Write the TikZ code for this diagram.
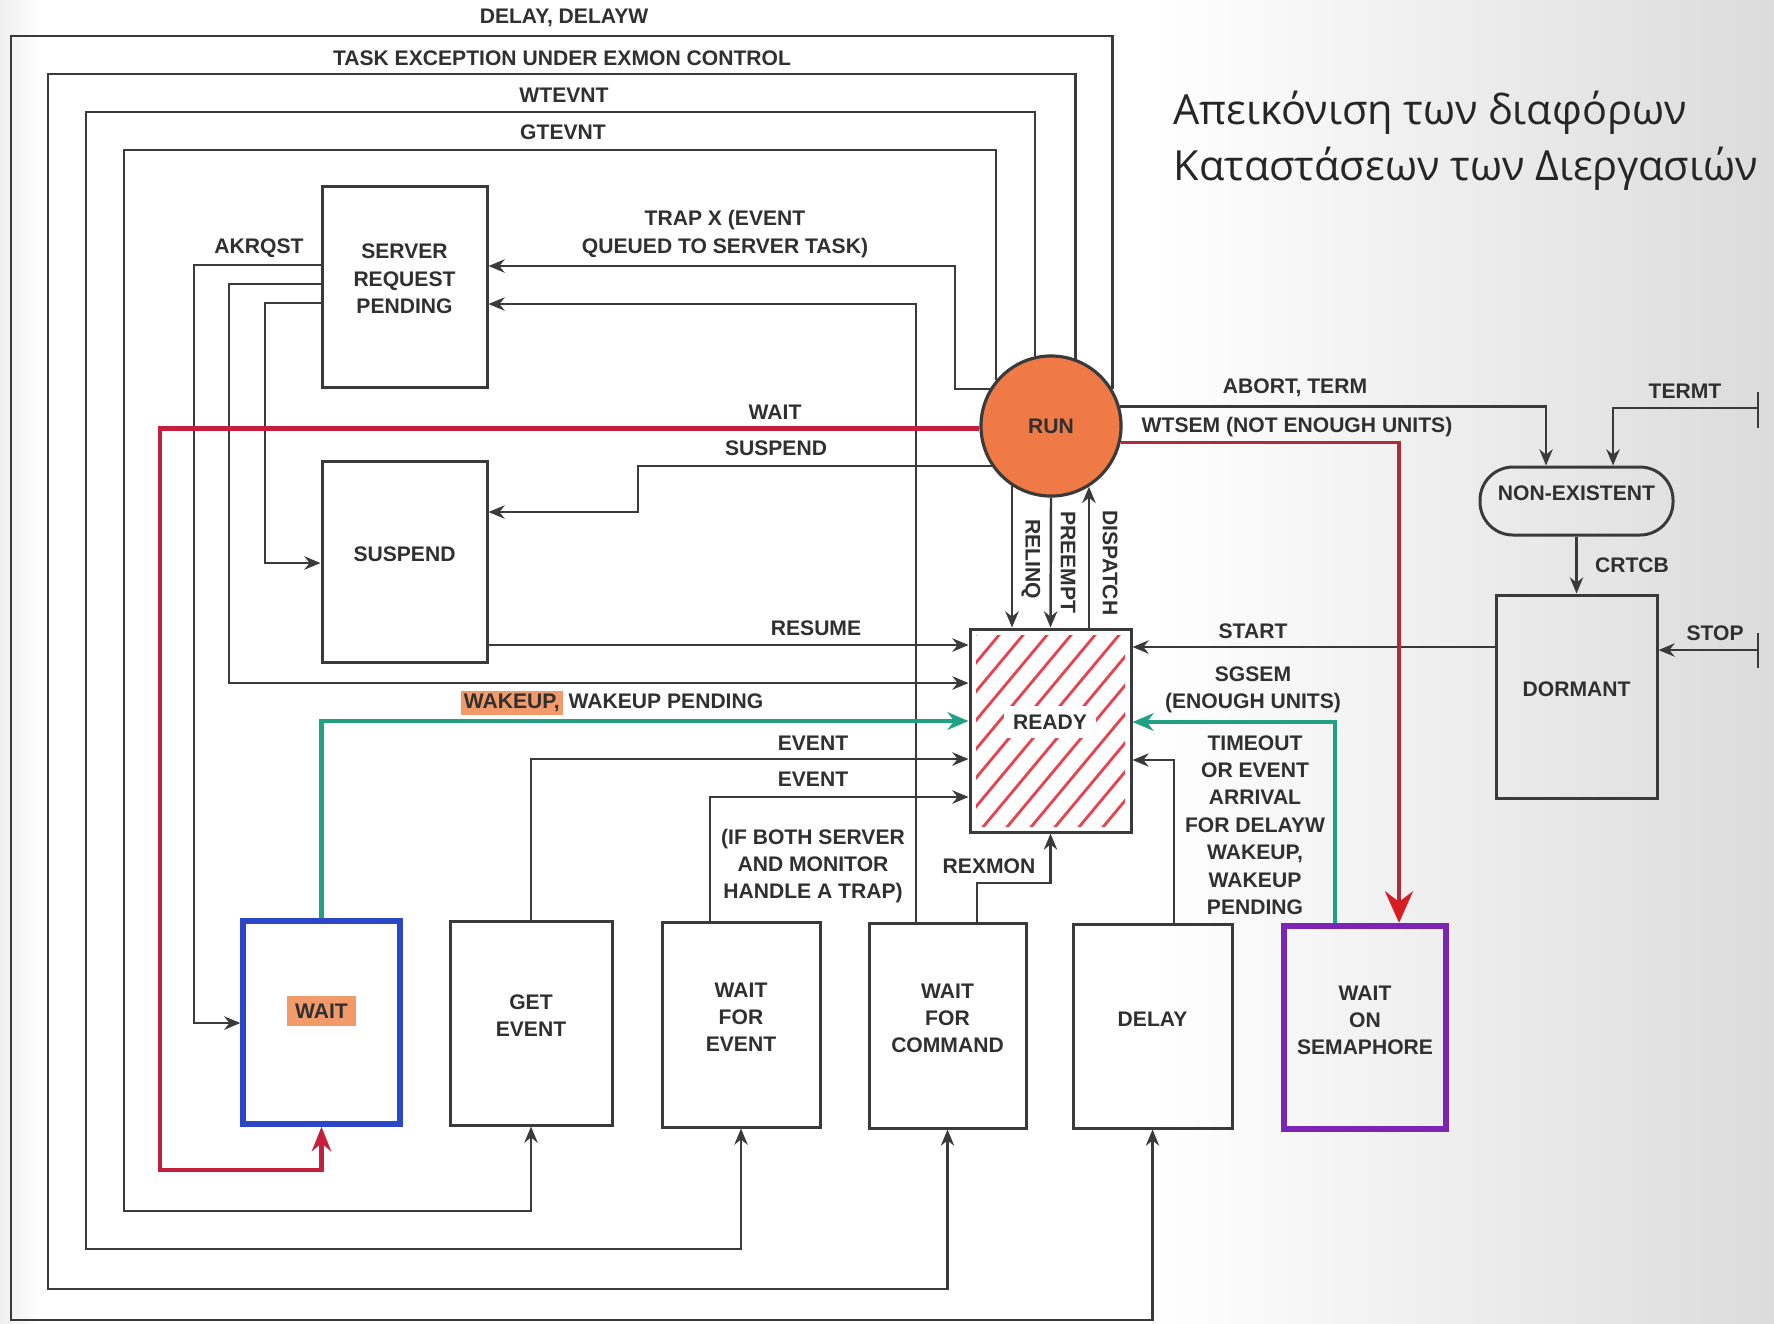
\documentclass[tikz,border=0pt]{standalone}
\usepackage{fontspec}
\setmainfont{Liberation Sans}
\newfontfamily\greekfont{Open Sans}
\usetikzlibrary{arrows.meta,fit,calc}
\definecolor{ln}{HTML}{3A3A3A}
\definecolor{txt}{HTML}{303030}
\definecolor{runfill}{HTML}{EF7A45}
\definecolor{wred}{HTML}{C4203E}
\definecolor{semred}{HTML}{B02A3A}
\definecolor{tipred}{HTML}{D81E24}
\definecolor{wgreen}{HTML}{21A184}
\definecolor{wblue}{HTML}{2B46C6}
\definecolor{wpurple}{HTML}{7B24B5}
\definecolor{hatchred}{HTML}{E8424E}
\definecolor{hlor}{HTML}{F29A6A}
\newcommand\hlt[2][0.9pt]{{\setlength{\fboxsep}{#1}\colorbox{hlor}{#2}}}

\begin{document}
\begin{tikzpicture}[x=0.01cm,y=-0.01cm,
  lbl/.style={font=\fontsize{6}{7.8}\selectfont\bfseries, text=txt, inner sep=0pt, align=center},
  box/.style={draw=ln, line width=0.85pt, inner sep=0pt, lbl},
  conn/.style={draw=ln, line width=0.7pt},
  arr/.style={conn, -{Stealth[length=4.6pt,width=3.8pt]}},
  redline/.style={draw=wred, line width=1.15pt, -{Stealth[length=7pt,width=5.5pt]}},
  semline/.style={draw=semred, line width=0.9pt, -{Stealth[length=9pt,width=8pt,inset=3pt,color=tipred]}},
  greenline/.style={draw=wgreen, line width=1.2pt, -{Stealth[length=6pt,width=5pt]}},
  title/.style={font=\greekfont\fontsize{11.8}{14}\selectfont, text=black!85, inner sep=0pt, anchor=base west}
]
% page and background tint towards the right edge
\useasboundingbox (0,0) rectangle (1774,1323);
\fill[white] (0,0) rectangle (1774,1323);
\shade[left color=white, right color=black!14] (1150,0) rectangle (1774,1323);
\shade[left color=black!6, right color=white] (0,0) rectangle (40,1323);

% hatching of the READY state
\begin{scope}
  \clip (976,635) rectangle (1125,826);
  \foreach \i in {0,...,15}
    \draw[hatchred, line width=0.8pt] (800+\i*24,845) -- ++(210,-252);
\end{scope}

% states
\node[circle, draw=ln, line width=0.9pt, fill=runfill, minimum size=1.4cm, inner sep=0pt, lbl] (run) at (1051,426) {RUN};
\node[box, fit={(970,629)(1131,832)}] (ready) {};
\node[lbl, fill=white, inner sep=2.5pt] (readylbl) at (1050,722) {READY};
\node[box, fit={(322,186)(487,387)}] (srp) {SERVER\\REQUEST\\PENDING};
\node[box, fit={(322,461)(487,662)}] (susp) {SUSPEND};
\node[box, draw=wblue, line width=1.5pt, fit={(243,921)(400,1124)}] (wait) {\hlt[2.2pt]{WAIT}};
\node[box, fit={(450,921)(612,1125)}] (getev) {GET\\EVENT};
\node[box, fit={(662,922)(820,1127)}] (wfe) {WAIT\\FOR\\EVENT};
\node[box, fit={(869,923)(1026,1128)}] (wfc) {WAIT\\FOR\\COMMAND};
\node[box, fit={(1073,924)(1232,1128)}] (delay) {DELAY};
\node[box, draw=wpurple, line width=1.8pt, fit={(1284,926)(1446,1129)}] (wsem) {WAIT\\ON\\SEMAPHORE};
\node[box, rounded corners=0.33cm, fit={(1480,467)(1673,535)}] (nonex) {NON-EXISTENT};
\node[box, fit={(1496,595)(1657,798)}] (dorm) {DORMANT};

% outer loops from RUN to the waiting states
\draw[arr] (run.31) |- (11,36) |- (delay.south |- 0,1320) -- (delay.south);
\draw[arr] (run.70) |- (48,74) |- (wfc.south |- 0,1289) -- (wfc.south);
\draw[arr] (run.103) |- (86,112) |- (wfe.south |- 0,1249) -- (wfe.south);
\draw[arr] (run.140) |- (124,150) |- (getev.south |- 0,1211) -- (getev.south);

% server request pending
\draw[arr] (run.149) -| (955,266) -- (srp.east |- 0,266);
\draw[arr] (wfc.north -| 916,0) |- (srp.east |- 0,304);
\draw[arr] (srp.west |- 0,265) -| (194,1023) -- (wait.west |- 0,1023);
\draw[arr] (srp.west |- 0,284) -| (229,683) -- (ready.west |- 0,683);
\draw[arr] (srp.west |- 0,303) -| (265,563) -- (susp.west |- 0,563);

% wait and suspend
\draw[redline] (run.182) -| (160,1170) -| (wait.south);
\draw[arr] (run.214) -| (638,512) -- (susp.east |- 0,512);
\draw[arr] (susp.east |- 0,645) -- (ready.west |- 0,645);

% returns to READY from the left and below
\draw[greenline] (wait.north) |- (ready.west |- 0,721);
\draw[arr] (getev.north) |- (ready.west |- 0,759);
\draw[arr] (wfe.north -| 710,0) |- (ready.west |- 0,797);
\draw[arr] (wfc.north -| 977,0) |- (ready.south |- 0,883) -- (ready.south);

% RUN <-> READY
\draw[arr] (run.237) -- (run.237 |- ready.north);
\draw[arr] (run.south) -- (ready.north);
\draw[arr] (run.302 |- ready.north) -- (run.302);

% right-hand side
\draw[arr] (dorm.west |- 0,647) -- (ready.east |- 0,647);
\draw[greenline] (wsem.north -| 1335,0) |- (ready.east |- 0,722);
\draw[arr] (delay.north -| 1174,0) |- (ready.east |- 0,760);
\draw[semline] (run.347) -| (wsem.north -| 1399,0);
\draw[arr] (run.16) -| (nonex.north -| 1546,0);
\coordinate (termt) at (1758,408);
\draw[conn] (termt) ++(0,-16) -- ++(0,36);
\draw[arr] (termt) -| (nonex.north -| 1613,0);
\draw[arr] (nonex.south) -- (nonex.south |- dorm.north);
\coordinate (stopin) at (1758,650);
\draw[conn] (stopin) ++(0,-17) -- ++(0,35);
\draw[arr] (stopin) -- (dorm.east |- stopin);

% transition labels
\node[lbl] (ldelay) at (564,18) {DELAY, DELAYW};
\node[lbl] (ltask) at (562,58) {TASK EXCEPTION UNDER EXMON CONTROL};
\node[lbl] (lwtevnt) at (564,95) {WTEVNT};
\node[lbl] (lgtevnt) at (563,132) {GTEVNT};
\node[lbl] (ltrap) at (725,234) {TRAP X (EVENT\\QUEUED TO SERVER TASK)};
\node[lbl] (lakrqst) at (259,248) {AKRQST};
\node[lbl] (lwait) at (775,412) {WAIT};
\node[lbl] (lsusp) at (776,448) {SUSPEND};
\node[lbl] (lresume) at (816,628) {RESUME};
\node[lbl] (lwake) at (612,703) {\hlt{WAKEUP,} WAKEUP PENDING};
\node[lbl] (lev1) at (813,743) {EVENT};
\node[lbl] (lev2) at (813,779) {EVENT};
\node[lbl] (lboth) at (813,866) {(IF BOTH SERVER\\AND MONITOR\\HANDLE A TRAP)};
\node[lbl] (lrexmon) at (989,866) {REXMON};
\node[lbl, rotate=-90] (lrelinq) at (1031,559) {RELINQ};
\node[lbl, rotate=-90] (lpreempt) at (1068,562) {PREEMPT};
\node[lbl, rotate=-90] (ldispatch) at (1110,563) {DISPATCH};
\node[lbl] (labort) at (1295,388) {ABORT, TERM};
\node[lbl] (lwtsem) at (1297,427) {WTSEM (NOT ENOUGH UNITS)};
\node[lbl] (ltermt) at (1685,391) {TERMT};
\node[lbl] (lcrtcb) at (1632,565) {CRTCB};
\node[lbl] (lstart) at (1253,631) {START};
\node[lbl] (lstop) at (1715,633) {STOP};
\node[lbl] (lsgsem) at (1253,690) {SGSEM\\(ENOUGH UNITS)};
\node[lbl] (ltimeout) at (1255,825) {TIMEOUT\\OR EVENT\\ARRIVAL\\FOR DELAYW\\WAKEUP,\\WAKEUP\\PENDING};

% title
\node[title] (t1) at (1173,124) {Απεικόνιση των διαφόρων};
\node[title] (t2) at (1173,180) {Καταστάσεων των Διεργασιών};
\end{tikzpicture}
\end{document}
